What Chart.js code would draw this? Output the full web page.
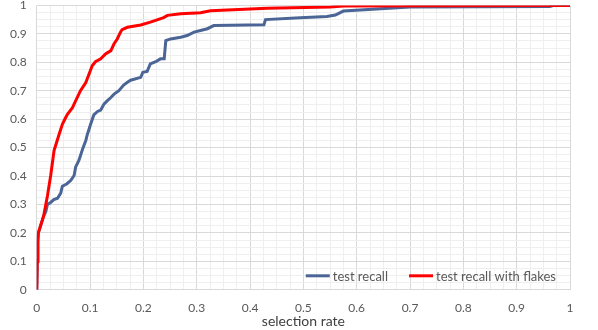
<!DOCTYPE html>
<html>
<head>
<meta charset="utf-8">
<script src="https://cdn.jsdelivr.net/npm/chart.js@4"></script>
<style>
  body { margin: 0; background: #fff; }
</style>
</head>
<body>
<canvas id="recallChart" width="598" height="330"></canvas>
<script>
// test recall (blue)
let recallX = [0, 0.001, 0.002, 0.003, 0.008, 0.013, 0.017, 0.02, 0.026, 0.032, 0.039, 0.045, 0.048, 0.056,
    0.064, 0.07, 0.073, 0.079, 0.086, 0.092, 0.095, 0.101, 0.107, 0.114, 0.12, 0.126, 0.132, 0.139, 0.145,
    0.154, 0.163, 0.17, 0.176, 0.195, 0.199, 0.207, 0.213, 0.223, 0.232, 0.239, 0.242, 0.251, 0.27, 0.282,
    0.295, 0.307, 0.32, 0.332, 0.426, 0.429, 0.494, 0.544, 0.56, 0.575, 0.7, 0.962, 0.97, 1];
let recallY = [0, 0.1, 0.17, 0.2, 0.23, 0.26, 0.275, 0.3, 0.307, 0.317, 0.322, 0.34, 0.364, 0.372,
    0.385, 0.402, 0.432, 0.455, 0.495, 0.525, 0.547, 0.582, 0.615, 0.627, 0.632, 0.653, 0.664, 0.676, 0.688,
    0.7, 0.72, 0.73, 0.737, 0.747, 0.765, 0.768, 0.794, 0.802, 0.812, 0.812, 0.876, 0.882, 0.888, 0.894,
    0.906, 0.912, 0.918, 0.929, 0.932, 0.95, 0.957, 0.961, 0.966, 0.98, 0.994, 0.996, 1, 1];

// test recall with flakes (red)
let flakesX = [0, 0.001, 0.002, 0.003, 0.008, 0.013, 0.02, 0.026, 0.0325, 0.042, 0.048, 0.054, 0.0575,
    0.067, 0.07, 0.082, 0.092, 0.104, 0.11, 0.12, 0.129, 0.139, 0.145, 0.151, 0.157, 0.16, 0.17, 0.195,
    0.213, 0.238, 0.245, 0.27, 0.307, 0.326, 0.432, 0.55, 0.575, 1];
let flakesY = [0, 0.1, 0.17, 0.2, 0.23, 0.26, 0.33, 0.4, 0.49, 0.547, 0.582, 0.605, 0.617,
    0.64, 0.653, 0.7, 0.729, 0.788, 0.802, 0.812, 0.829, 0.841, 0.865, 0.882, 0.906, 0.915, 0.923, 0.931,
    0.941, 0.957, 0.965, 0.971, 0.974, 0.981, 0.99, 0.994, 0.998, 1];

let seriesNames = ["test recall", "test recall with flakes"];
let seriesColors = ["#4a6596", "#ff0000"];

function toPoints(xs, ys) {
    return xs.map((x, i) => ({ x: x, y: ys[i] }));
}

function tickLabel(value, index) {
    if (index % 4 !== 0) return "";
    return String(Number(value.toFixed(3)));
}

function gridColor(c) {
    return c.index % 4 === 0 ? "#d9d9d9" : "#efefef";
}

// legend drawn inside the plot, bottom right
const insideLegend = {
    id: "insideLegend",
    afterDraw(chart) {
        let ctx = chart.ctx;
        let area = chart.chartArea;
        ctx.save();
        ctx.font = "13px Lato";
        ctx.textBaseline = "middle";
        let y = area.bottom - 14;
        let lineLen = 24, gap = 3, itemGap = 21;
        let widths = seriesNames.map(n => ctx.measureText(n).width);
        let total = widths.reduce((a, w) => a + lineLen + gap + w, 0) + itemGap * (seriesNames.length - 1);
        let x = area.right - 14 - total;
        seriesNames.forEach((name, i) => {
            ctx.strokeStyle = seriesColors[i];
            ctx.lineWidth = 3;
            ctx.beginPath();
            ctx.moveTo(x, y);
            ctx.lineTo(x + lineLen, y);
            ctx.stroke();
            ctx.fillStyle = "#595959";
            ctx.fillText(name, x + lineLen + gap, y + 1);
            x += lineLen + gap + widths[i] + itemGap;
        });
        ctx.restore();
    }
};

let ctx = document.getElementById("recallChart").getContext("2d");

new Chart(ctx, {
    type: "scatter",
    data: {
        datasets: [{
            label: seriesNames[0],
            data: toPoints(recallX, recallY),
            showLine: true,
            borderColor: seriesColors[0],
            borderWidth: 3,
            pointRadius: 0,
            order: 1
        }, {
            label: seriesNames[1],
            data: toPoints(flakesX, flakesY),
            showLine: true,
            borderColor: seriesColors[1],
            borderWidth: 3,
            pointRadius: 0,
            order: 0
        }]
    },
    options: {
        responsive: false,
        animation: false,
        layout: { padding: { left: 10, right: 28, top: 0, bottom: 0 } },
        plugins: {
            legend: { display: false },
            tooltip: { enabled: false }
        },
        scales: {
            x: {
                type: "linear",
                min: 0,
                max: 1,
                border: { display: false },
                grid: { color: gridColor, drawTicks: false },
                ticks: {
                    stepSize: 0.025,
                    autoSkip: false,
                    maxRotation: 0,
                    padding: 11,
                    color: "#595959",
                    font: { family: "Lato", size: 12 },
                    callback: tickLabel
                },
                title: {
                    display: true,
                    text: "selection rate",
                    color: "#404040",
                    font: { family: "Lato", size: 14 },
                    padding: { top: -13, bottom: 0 }
                }
            },
            y: {
                type: "linear",
                min: 0,
                max: 1,
                border: { display: false },
                grid: { color: gridColor, drawTicks: true, tickLength: 10, tickColor: "rgba(0,0,0,0)" },
                ticks: {
                    stepSize: 0.025,
                    autoSkip: false,
                    padding: 0,
                    color: "#595959",
                    font: { family: "Lato", size: 12, lineHeight: 0.9 },
                    callback: tickLabel
                }
            }
        }
    },
    plugins: [insideLegend]
});
</script>
</body>
</html>
